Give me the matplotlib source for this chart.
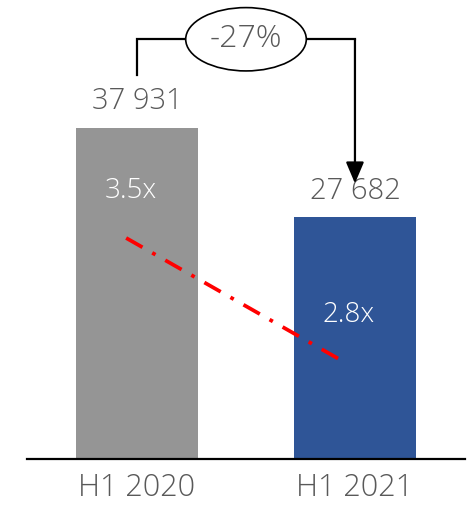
import numpy as np
import matplotlib.pyplot as plt

periods = ["H1 2020", "H1 2021"]
totals = [37931, 27682]
total_labels = ["37 931", "27 682"]
ratios = [3.5, 2.8]
ratio_labels = ["3.5x", "2.8x"]
change_label = "-27%"

bar_colors = ["#959595", "#2F5597"]
text_grey = "#595959"

plt.rcParams["font.family"] = ["Open Sans", "DejaVu Sans"]
plt.rcParams["font.weight"] = "light"

fig = plt.figure(figsize=(4.72, 5.05), dpi=100)
ax = fig.add_axes([27 / 472, 46 / 505, 438 / 472, 459 / 505])
x = np.arange(len(periods))

ax.bar(x, totals, width=0.56, color=bar_colors, zorder=2)
ax.set_xlim(-0.505, 1.505)
ax.set_ylim(0, 52600)

for side in ["left", "right", "top"]:
    ax.spines[side].set_visible(False)
ax.spines["bottom"].set_linewidth(1.6)
ax.set_yticks([])
ax.set_xticks(x)
ax.set_xticklabels(periods, fontsize=22, color=text_grey)
ax.tick_params(axis="x", length=0, pad=9)

# value labels above the bars
for xi, v, lab in zip(x, totals, total_labels):
    ax.annotate(lab, (xi, v), xytext=(0, 19), textcoords="offset points",
                ha="center", va="center", fontsize=21, color=text_grey)

# bracket from the first bar to the second, with the change in an ellipse
top = 48100
ax.plot([x[0], x[0], x[1]], [totals[0] + 6100, top, top], color="black", lw=1.6,
        solid_joinstyle="miter", zorder=3)
ax.annotate("", xy=(x[1], totals[1] + 3900), xytext=(x[1], top),
            arrowprops=dict(arrowstyle="-|>,head_length=1.3,head_width=0.55",
                            color="black", lw=1.6, shrinkA=0, shrinkB=0), zorder=3)
ax.text((x[0] + x[1]) / 2, top, change_label, ha="center", va="center", fontsize=23,
        color=text_grey, zorder=4,
        bbox=dict(boxstyle="ellipse,pad=0.2", fc="white", ec="black", lw=1.2))

# ratio trend on a second axis
ax2 = ax.twinx()
ax2.set_ylim(2.252, 4.844)
ax2.axis("off")
lx = x - 0.05
ax2.plot(lx, ratios, color="red", lw=2.7, linestyle=(0, (5, 3, 1, 3)), zorder=3)
for xi, r, lab in zip(x, ratios, ratio_labels):
    ax2.annotate(lab, (xi - 0.03, r), xytext=(0, 34), textcoords="offset points",
                 ha="center", va="center", fontsize=20, color="white")

fig.savefig("out.png", dpi=100)
